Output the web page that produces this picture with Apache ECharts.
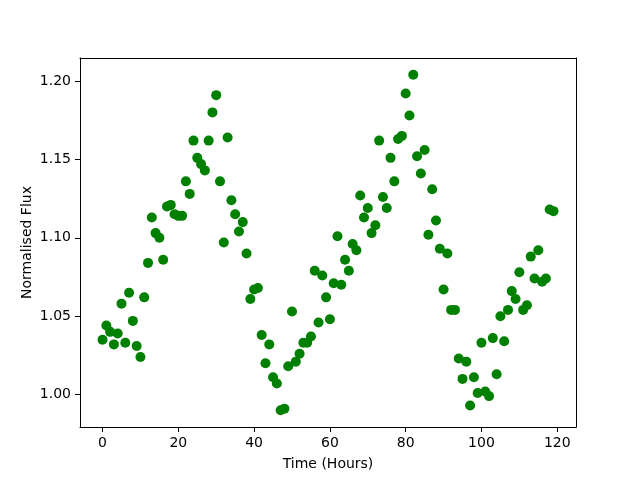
<!DOCTYPE html>
<html>
<head>
<meta charset="utf-8">
<script src="https://cdn.jsdelivr.net/npm/echarts@6/dist/echarts.min.js"></script>
<style>
    html, body { margin: 0; padding: 0; background: #fff; }
    #chart { width: 640px; height: 480px; }
</style>
</head>
<body>
<div id="chart"></div>
<script>
// time in hours, one reading per hour
const hours = [];
for (let i = 0; i < 120; i++) hours.push(i);

// normalised flux
const flux = [
    1.035, 1.044, 1.040, 1.032, 1.039, 1.058, 1.033, 1.065, 1.047, 1.031,
    1.024, 1.062, 1.084, 1.113, 1.103, 1.100, 1.086, 1.120, 1.121, 1.115,
    1.114, 1.114, 1.136, 1.128, 1.162, 1.151, 1.147, 1.143, 1.162, 1.180,
    1.191, 1.136, 1.097, 1.164, 1.124, 1.115, 1.104, 1.110, 1.090, 1.061,
    1.067, 1.068, 1.038, 1.020, 1.032, 1.011, 1.007, 0.990, 0.991, 1.018,
    1.053, 1.021, 1.026, 1.033, 1.033, 1.037, 1.079, 1.046, 1.076, 1.062,
    1.048, 1.071, 1.101, 1.070, 1.086, 1.079, 1.096, 1.092, 1.127, 1.113,
    1.119, 1.103, 1.108, 1.162, 1.126, 1.119, 1.151, 1.136, 1.163, 1.165,
    1.192, 1.178, 1.204, 1.152, 1.141, 1.156, 1.102, 1.131, 1.111, 1.093,
    1.067, 1.090, 1.054, 1.054, 1.023, 1.010, 1.021, 0.993, 1.011, 1.001,
    1.033, 1.002, 0.999, 1.036, 1.013, 1.050, 1.034, 1.054, 1.066, 1.061,
    1.078, 1.054, 1.057, 1.088, 1.074, 1.092, 1.072, 1.074, 1.118, 1.117
];

const xTicks = [0, 20, 40, 60, 80, 100, 120];
const yTicks = [1.00, 1.05, 1.10, 1.15, 1.20];

const points = hours.map(function (h, i) { return [h, flux[i]]; });

// matplotlib style 5% margins
const xSpan = hours[hours.length - 1] - hours[0];
const yLo = Math.min.apply(null, flux), yHi = Math.max.apply(null, flux);
const ySpan = yHi - yLo;
const xMin = hours[0] - 0.05 * xSpan, xMax = hours[hours.length - 1] + 0.05 * xSpan;
const yMin = yLo - 0.05 * ySpan, yMax = yHi + 0.05 * ySpan;

const font = "DejaVu Sans";
const black = { color: '#000', width: 1 };

// plain frame axis for the top and right spines
function frame(pos, lo, hi) {
    return {
        type: 'value', position: pos, min: lo, max: hi,
        axisLine: { show: true, onZero: false, lineStyle: black },
        axisTick: { show: false }, axisLabel: { show: false }, splitLine: { show: false }
    };
}

const chart = echarts.init(document.getElementById('chart'), null, { renderer: 'canvas' });
chart.setOption({
    animation: false,
    backgroundColor: '#fff',
    grid: { left: 80, top: 58, width: 496, height: 369 },
    xAxis: [{
        type: 'value',
        position: 'bottom',
        min: xMin,
        max: xMax,
        name: 'Time (Hours)',
        nameLocation: 'middle',
        nameGap: 30,
        nameMoveOverlap: false,
        nameTextStyle: { color: '#000', fontFamily: font, fontSize: 14 },
        axisLine: { show: true, onZero: false, lineStyle: black },
        axisTick: { show: true, length: 5, customValues: xTicks, lineStyle: { color: '#000' } },
        axisLabel: {
            customValues: xTicks, margin: 9, color: '#000',
            fontFamily: font, fontSize: 14,
            formatter: function (v) { return String(Math.round(v)); }
        },
        splitLine: { show: false }
    }, frame('top', xMin, xMax)],
    yAxis: [{
        type: 'value',
        position: 'left',
        min: yMin,
        max: yMax,
        name: 'Normalised Flux',
        nameLocation: 'middle',
        nameGap: 46,
        nameMoveOverlap: false,
        nameTextStyle: { color: '#000', fontFamily: font, fontSize: 14 },
        axisLine: { show: true, onZero: false, lineStyle: black },
        axisTick: { show: true, length: 5, customValues: yTicks, lineStyle: { color: '#000' } },
        axisLabel: {
            customValues: yTicks, margin: 9, color: '#000',
            fontFamily: font, fontSize: 14,
            formatter: function (v) { return v.toFixed(2); }
        },
        splitLine: { show: false }
    }, frame('right', yMin, yMax)],
    series: [{
        type: 'scatter',
        data: points,
        symbol: 'circle',
        symbolSize: 10,
        itemStyle: { color: '#008000', opacity: 1 }
    }]
});
</script>
</body>
</html>
